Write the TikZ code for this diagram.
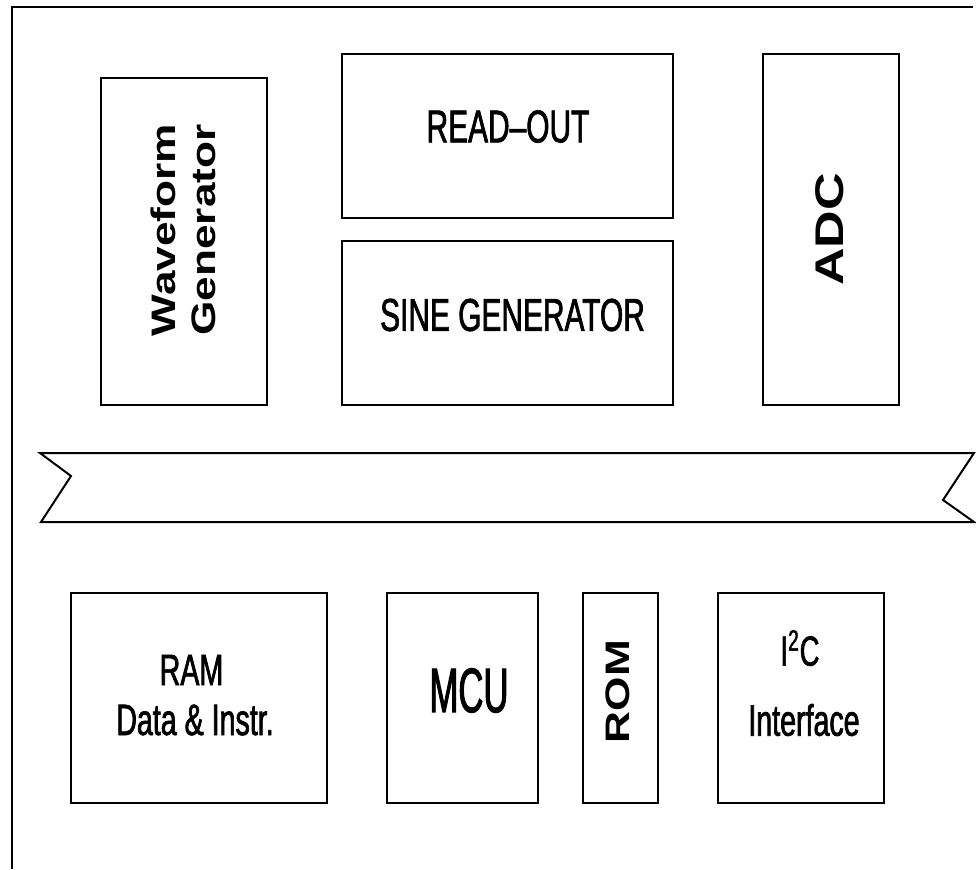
\documentclass[tikz,border=0pt]{standalone}
\usepackage{fontspec}
\setmainfont{Liberation Sans}
\newfontfamily\narrowFont[FakeStretch=0.65, FakeBold=1.5]{Liberation Sans}
\newfontfamily\narrowerFont[FakeStretch=0.55, FakeBold=1.5]{Liberation Sans}
\newfontfamily\wideFont[FakeStretch=1.3]{Liberation Sans Bold}
\usetikzlibrary{positioning}
\tikzset{
  blockBox/.style={rectangle, draw=black, line width=1pt, inner sep=0pt,
                   outer sep=0pt, minimum height=105pt},
  labelN/.style={inner sep=0pt, align=center,
                 font=\narrowFont\fontsize{#1}{#1}\selectfont},
  labelW/.style={inner sep=0pt, align=center, rotate=90,
                 font=\wideFont\fontsize{#1}{#1}\selectfont},
  busShape/.style={draw=black, line width=1pt, line join=miter},
  frameLine/.style={draw=black, line width=1.4pt},
}

\begin{document}
\begin{tikzpicture}[x=0.5pt, y=-0.5pt]
    \useasboundingbox (0,0) rectangle (976,869);
    % frame and bus
    \draw[frameLine] (12,869) -- (12,7) -- (973,7);
    \draw[busShape] (40,453) -- (974,453) -- (943,500) -- (974,522)
      -- (41,522) -- (71,476) -- cycle;
    % upper blocks
    \node[blockBox, minimum width=165.5pt, minimum height=82pt] (readout) at (507.5,136) {};
    \node[blockBox, minimum width=165.5pt, minimum height=82pt, below=11.5pt of readout] (sine) {};
    \node[blockBox, minimum width=83pt, minimum height=163.5pt] (wave) at (184,241.5) {};
    \node[blockBox, minimum width=68pt, minimum height=175.5pt] (adc) at (831,229.5) {};
    \node[labelN=23] (readoutT) at (508,126.5) {READ–OUT};
    \node[labelN=23] (sineT) at (512.5,315) {SINE GENERATOR};
    \node[labelW=17, font=\wideFont\fontsize{17}{20}\selectfont] (waveT) at (183,230)
      {Waveform\\Generator};
    \node[labelW=20] (adcT) at (830,229.5) {ADC};
    % lower blocks
    \node[blockBox, minimum width=128pt] (ram) at (199,698) {};
    \node[blockBox, minimum width=75.5pt, right=30pt of ram] (mcu) {};
    \node[blockBox, minimum width=37.5pt, right=22.5pt of mcu] (rom) {};
    \node[blockBox, minimum width=83pt, right=30pt of rom] (i2c) {};
    \node[labelN=22] (ramT) at (191.5,670) {RAM};
    \node[labelN=22] (ramD) at (195,720) {Data \& Instr.};
    \node[inner sep=0pt, font=\narrowerFont\fontsize{31.5}{31.5}\selectfont] (mcuT) at (469,690.5) {MCU};
    \node[labelW=17] (romT) at (618,691.5) {ROM};
    \node[labelN=21] (i2cT) at (800,648) {I\textsuperscript{2}C};
    \node[labelN=22] (i2cD) at (804,720) {Interface};
\end{tikzpicture}
\end{document}
